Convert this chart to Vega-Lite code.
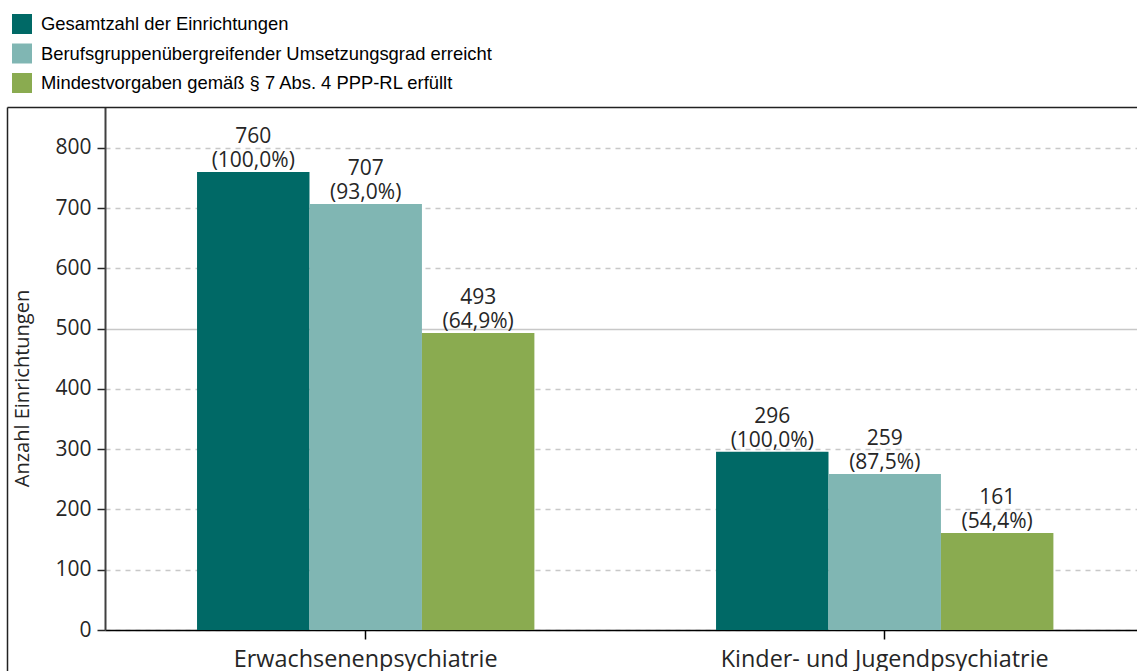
{
  "$schema": "https://vega.github.io/schema/vega-lite/v6.json",
  "width": 1032,
  "height": 564,
  "autosize": {"type": "none"},
  "padding": {"left": 105, "top": 107, "right": 0, "bottom": 0},
  "background": "white",
  "config": {"view": {"stroke": null}, "font": "Open Sans"},
  "data": {
    "values": [
      {"cat": "Erwachsenenpsychiatrie", "series": "Gesamtzahl der Einrichtungen", "n": 760, "pct": "(100,0%)"},
      {"cat": "Erwachsenenpsychiatrie", "series": "Berufsgruppenübergreifender Umsetzungsgrad erreicht", "n": 707, "pct": "(93,0%)"},
      {"cat": "Erwachsenenpsychiatrie", "series": "Mindestvorgaben gemäß § 7 Abs. 4 PPP-RL erfüllt", "n": 493, "pct": "(64,9%)"},
      {"cat": "Kinder- und Jugendpsychiatrie", "series": "Gesamtzahl der Einrichtungen", "n": 296, "pct": "(100,0%)"},
      {"cat": "Kinder- und Jugendpsychiatrie", "series": "Berufsgruppenübergreifender Umsetzungsgrad erreicht", "n": 259, "pct": "(87,5%)"},
      {"cat": "Kinder- und Jugendpsychiatrie", "series": "Mindestvorgaben gemäß § 7 Abs. 4 PPP-RL erfüllt", "n": 161, "pct": "(54,4%)"}
    ]
  },
  "layer": [
    {
      "encoding": {
        "x": {
          "field": "cat", "type": "nominal", "sort": null,
          "scale": {"paddingInner": 0.35, "paddingOuter": 0.1692, "align": 0.524},
          "axis": {
            "orient": "bottom", "offset": -41, "title": null, "labelAngle": 0,
            "domainColor": "#000000", "domainWidth": 1.5,
            "tickColor": "#000000", "tickWidth": 1.5, "tickSize": 9,
            "labelFont": "Open Sans", "labelFontSize": 23.4, "labelColor": "#262626",
            "labelPadding": 9, "labelLimit": 1000, "grid": false
          }
        },
        "xOffset": {
          "field": "series", "type": "nominal",
          "sort": ["Gesamtzahl der Einrichtungen", "Berufsgruppenübergreifender Umsetzungsgrad erreicht", "Mindestvorgaben gemäß § 7 Abs. 4 PPP-RL erfüllt"],
          "scale": {"paddingInner": 0, "paddingOuter": 0}
        },
        "y": {
          "field": "n", "type": "quantitative",
          "scale": {"domain": [0, 868], "range": [523, 0], "nice": false, "zero": true},
          "axis": {
            "values": [0, 100, 200, 300, 400, 500, 600, 700, 800],
            "title": "Anzahl Einrichtungen",
            "titleFont": "Open Sans", "titleFontSize": 20, "titleFontWeight": "normal",
            "titleColor": "#262626", "titleX": -77, "titleY": 281, "titleBaseline": "alphabetic", "titleAngle": -90, "titleAlign": "center",
            "domainColor": "#404040", "domainWidth": 2,
            "tickColor": "#262626", "tickWidth": 1.5, "tickSize": 8,
            "labelFont": "Open Sans", "labelFontSize": 21, "labelColor": "#262626", "labelPadding": 6,
            "grid": true, "gridColor": "#c8c8c8", "gridWidth": 1.5,
            "gridDash": {"condition": {"test": "datum.value === 500", "value": []}, "value": [5, 5]}
          }
        }
      },
      "layer": [
        {
          "mark": {"type": "bar"},
          "encoding": {
            "color": {
              "field": "series", "type": "nominal",
              "scale": {
                "domain": ["Gesamtzahl der Einrichtungen", "Berufsgruppenübergreifender Umsetzungsgrad erreicht", "Mindestvorgaben gemäß § 7 Abs. 4 PPP-RL erfüllt"],
                "range": ["#006966", "#80b6b3", "#8aab50"]
              },
              "legend": {
                "orient": "none", "legendX": -93, "legendY": -93, "title": null,
                "symbolType": "square", "symbolSize": 400, "symbolStrokeWidth": 0,
                "labelFont": "Liberation Sans", "labelFontSize": 18.4, "labelColor": "#000000",
                "labelLimit": 1000, "labelOffset": 9, "rowPadding": 9.5, "padding": 0
              }
            }
          }
        },
        {
          "mark": {"type": "text", "font": "Open Sans", "fontSize": 21, "color": "#262626", "align": "center", "baseline": "alphabetic", "dy": -29},
          "encoding": {"text": {"field": "n", "type": "quantitative"}}
        },
        {
          "mark": {"type": "text", "font": "Open Sans", "fontSize": 21, "color": "#262626", "align": "center", "baseline": "alphabetic", "dy": -5},
          "encoding": {"text": {"field": "pct", "type": "nominal"}}
        }
      ]
    },
    {
      "mark": {"type": "point", "opacity": 0},
      "encoding": {
        "y": {
          "datum": 1, "type": "quantitative",
          "scale": {"domain": [0, 1], "nice": false},
          "axis": {
            "orient": "left", "offset": 98, "title": null, "labels": false, "grid": false,
            "values": [1], "ticks": true, "tickSize": -1130, "tickColor": "#222222", "tickWidth": 1.5,
            "domain": true, "domainColor": "#222222", "domainWidth": 1.5
          }
        }
      }
    }
  ],
  "resolve": {"scale": {"y": "independent"}}
}
